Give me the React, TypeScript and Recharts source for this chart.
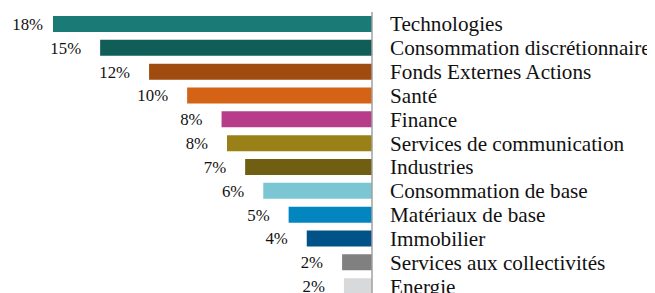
import React from "react";
import { BarChart, Bar, XAxis, YAxis, Cell, LabelList } from "recharts";

// sector names, top to bottom
const sectors = [
  "Technologies",
  "Consommation discrétionnaire",
  "Fonds Externes Actions",
  "Santé",
  "Finance",
  "Services de communication",
  "Industries",
  "Consommation de base",
  "Matériaux de base",
  "Immobilier",
  "Services aux collectivités",
  "Energie",
];

// weights in %
const weights = [17.6, 15.0, 12.3, 10.2, 8.3, 8.0, 7.0, 6.0, 4.6, 3.6, 1.65, 1.55];

const colors = [
  "#1a7b76",
  "#115e59",
  "#a04b10",
  "#d56315",
  "#b73c89",
  "#9a8117",
  "#705f12",
  "#7ac7d3",
  "#0386bf",
  "#005288",
  "#808080",
  "#d8d9da",
];

const data = sectors.map((name, i) => ({ name, value: weights[i] }));

const FONT = "'Liberation Serif', 'Times New Roman', serif";

const PctLabel = (props: any) => {
  const { x, y, width, height, value } = props;
  const left = Math.min(x, x + width);
  // keep the widest label inside the picture
  const xEnd = Math.max(left - 19, 35);
  return (
    <text
      x={xEnd}
      y={y + height / 2}
      dy="0.35em"
      textAnchor="end"
      fontFamily={FONT}
      fontSize={16.8}
      fill="#111"
    >
      {Math.round(value)}%
    </text>
  );
};

const App = () => {
  return (
    <div style={{ width: 647, height: 292 }}>
      <BarChart
        width={647}
        height={292}
        data={data}
        layout="vertical"
        margin={{ top: 4, right: 0, bottom: 2, left: 45 }}
      >
        <XAxis type="number" reversed domain={[0, "dataMax"]} hide />
        <YAxis
          type="category"
          dataKey="name"
          orientation="right"
          width={283}
          axisLine={{ stroke: "#a0a0a0", strokeWidth: 1.5 }}
          tickLine={false}
          tickSize={0}
          tickMargin={18}
          interval={0}
          tick={{ fill: "#111", fontSize: 21.2, fontFamily: FONT, textAnchor: "start" }}
        />
        <Bar dataKey="value" barSize={16} isAnimationActive={false}>
          {data.map((d, i) => (
            <Cell key={d.name} fill={colors[i]} />
          ))}
          <LabelList dataKey="value" content={PctLabel} />
        </Bar>
      </BarChart>
    </div>
  );
};

export default App;
